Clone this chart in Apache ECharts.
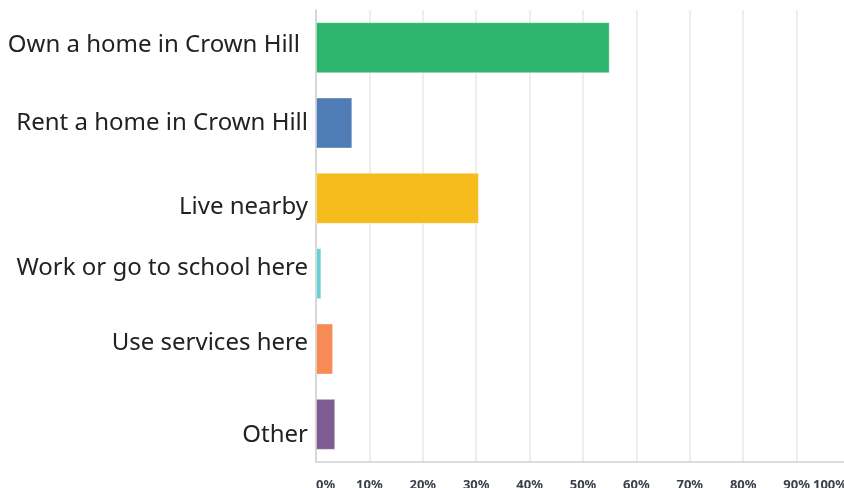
<!DOCTYPE html>
<html>
<head>
<meta charset="utf-8">
<script src="https://cdn.jsdelivr.net/npm/echarts@6/dist/echarts.min.js"></script>
<style>
html,body{margin:0;padding:0;background:#fff;}
#chart{width:844px;height:488px;}
</style>
</head>
<body>
<div id="chart"></div>
<script>
// ---- data ----
var categories = [
  'Own a home in Crown Hill',
  'Rent a home in Crown Hill',
  'Live nearby',
  'Work or go to school here',
  'Use services here',
  'Other'
];
var percentValues = [55.0, 6.8, 30.5, 1.0, 3.2, 3.6];
var barColors = ['#2eb56e', '#507cb6', '#f6bc1b', '#6ccdd2', '#f68b55', '#7e5c93'];
var tickValues = [0, 10, 20, 30, 40, 50, 60, 70, 80, 90, 100];

// label nudges (style only): rich style key per category
var labelStyleKey = {
  'Own a home in Crown Hill': 'own',
  'Rent a home in Crown Hill': 'base',
  'Live nearby': 'dn9',
  'Work or go to school here': 'up6',
  'Use services here': 'up6',
  'Other': 'dn11'
};
var baseFont = {fontFamily: 'Noto Sans', fontSize: 24, color: '#222222'};
function mk(extra) { return Object.assign({}, baseFont, extra); }

var chart = echarts.init(document.getElementById('chart'), null, {renderer: 'canvas'});

var option = {
  animation: false,
  backgroundColor: '#ffffff',
  grid: {left: 316, top: 10, width: 534, height: 452, containLabel: false, outerBoundsMode: 'none'},
  xAxis: {
    type: 'value',
    min: tickValues[0],
    max: tickValues[tickValues.length - 1],
    interval: 10,
    axisLine: {show: true, lineStyle: {color: '#cfcfcf', width: 1.5}},
    axisTick: {show: false},
    splitLine: {show: true, lineStyle: {color: '#e9e9e9', width: 1.5}},
    axisLabel: {
      show: true,
      margin: 17,
      hideOverlap: false,
      showMinLabel: true,
      showMaxLabel: true,
      fontFamily: 'Noto Sans',
      fontSize: 13,
      fontWeight: 'bold',
      color: '#3a3f48',
      alignMinLabel: 'left',
      alignMaxLabel: 'right',
      formatter: function (v) {
        return v === 100 ? '{m|' + v + '%}' : v + '%';
      },
      rich: {
        m: {padding: [0, 3, 0, 0], fontFamily: 'Noto Sans', fontSize: 13, fontWeight: 'bold', color: '#3a3f48'}
      }
    }
  },
  yAxis: {
    type: 'category',
    inverse: true,
    data: categories,
    axisLine: {show: true, lineStyle: {color: '#cfcfcf', width: 1.5}},
    axisTick: {show: false},
    splitLine: {show: false},
    axisLabel: {
      margin: 8,
      fontFamily: 'Noto Sans',
      fontSize: 24,
      color: '#222222',
      formatter: function (v) {
        return '{' + labelStyleKey[v] + '|' + v + '}';
      },
      rich: {
        base: mk({}),
        own: mk({padding: [0, 8, 0, 0], verticalAlign: 'top', lineHeight: 30}),
        dn9: mk({verticalAlign: 'bottom', lineHeight: 42}),
        dn11: mk({verticalAlign: 'bottom', lineHeight: 46}),
        up6: mk({verticalAlign: 'top', lineHeight: 36})
      }
    }
  },
  series: [{
    type: 'bar',
    barWidth: 51,
    data: percentValues.map(function (v, i) {
      return {value: v, itemStyle: {color: barColors[i]}};
    }),
    itemStyle: {borderColor: 'rgba(255,255,255,0.35)', borderWidth: 1}
  }]
};
chart.setOption(option);
</script>
</body>
</html>
